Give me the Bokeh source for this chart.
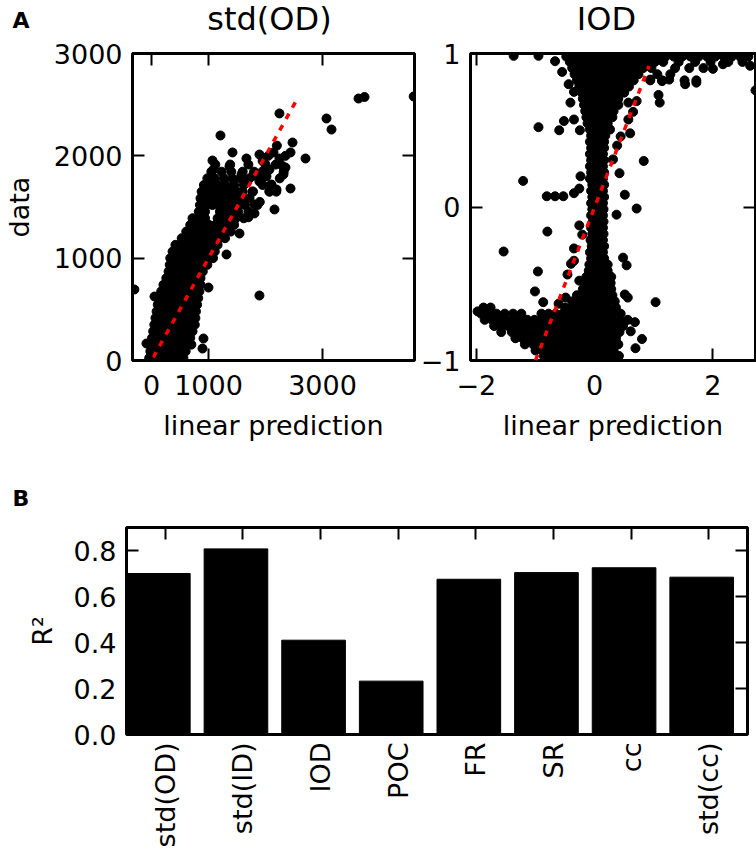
import math
from bokeh.plotting import figure
from bokeh.models import LinearAxis, FixedTicker, PrintfTickFormatter
from bokeh.layouts import column, row
from bokeh.embed import file_html
from bokeh.resources import INLINE
from bokeh.core.properties import value

FONT = "DejaVu Sans"

# ---------------- Panel A, left: std(OD) ----------------
od_title = "std(OD)"
od_xticks = [0, 1000, 3000]
od_yticks = [0, 1000, 2000, 3000]
od_xrange = (-333, 4614)
od_yrange = (0, 3000)
od_identity = [30, 2550]

# dense cloud, read row by row (y value of the row, x values along it)
od_row_y = [25, 90, 155, 220, 285, 350, 415, 480, 545, 610, 675, 740, 805, 870,
            935, 1000, 1065, 1130, 1195, 1260, 1325, 1390, 1455, 1520, 1585,
            1650, 1715, 1780, 1845, 1915]
od_row_x = [
    [-40, 60, 160, 260, 360, 460, 560],
    [-20, 80, 180, 280, 380, 480, 600],
    [0, 100, 200, 300, 400, 500, 620, 700],
    [10, 110, 210, 310, 410, 510, 610, 680],
    [30, 130, 230, 330, 430, 530, 630, 720],
    [50, 150, 250, 350, 450, 550, 650, 760],
    [70, 170, 270, 370, 470, 570, 670, 770],
    [90, 190, 290, 390, 490, 590, 690, 780],
    [110, 210, 310, 410, 510, 610, 710, 800],
    [130, 230, 330, 430, 530, 630, 730, 820],
    [170, 270, 370, 470, 570, 670, 770, 840],
    [210, 310, 410, 510, 610, 710, 810, 860],
    [260, 360, 460, 560, 660, 760, 860],
    [300, 400, 500, 600, 700, 800, 900],
    [320, 420, 520, 620, 720, 820, 920, 980],
    [330, 440, 550, 660, 770, 880, 990, 1080],
    [370, 480, 590, 700, 810, 920, 1030, 1110],
    [420, 530, 640, 750, 860, 970, 1080, 1160],
    [530, 640, 750, 860, 970, 1080, 1190, 1290],
    [610, 720, 830, 940, 1050, 1160, 1270, 1390],
    [680, 790, 900, 1010, 1120, 1230, 1340, 1450],
    [720, 830, 940, 1160, 1270, 1380, 1480, 1620],
    [830, 940, 1200, 1310, 1420, 1520, 1700],
    [850, 960, 1070, 1180, 1290, 1400, 1530, 1640, 1860],
    [860, 980, 1100, 1220, 1340, 1460, 1600, 1720],
    [880, 1000, 1120, 1240, 1360, 1480, 1600, 1780, 2070, 2190],
    [920, 1040, 1160, 1300, 1450, 1620, 1950, 2100],
    [980, 1110, 1270, 1420, 1560, 1720, 1900, 2250],
    [1050, 1230, 1400, 1600, 1800, 2030, 2320],
    [1120, 1380, 1700, 2000, 2180],
]
# isolated points
od_sparse_x = [1210, 1421, 1666, 1894, 2140, 2245, 2351, 2315, 2439, 2158, 1070, 1088,
               1368, 2070, 2105, 2193, 1807, 1544, 1316, 1894, 1000, 912, 895, 53,
               -300, -88, 3070, 3158, 3632, 3737, 4600, 2245, 2474, 2439, 2702, 1789,
               1947, 2017, 1894, 1772, 2070, 1807, 1614, 1263, 965, 1579, 1666,
               1850, 1950, 2300, 1700, 1900, 2350, 1500, 2200, 2050]
od_sparse_y = [2199, 2033, 1974, 2013, 2033, 1974, 1886, 1818, 1681, 1476, 1954, 1866,
               1896, 1866, 1720, 1671, 1437, 1241, 1036, 635, 713, 215, 117, 625,
               694, 166, 2365, 2257, 2560, 2575, 2580, 2414, 2130, 2033, 1974, 1818,
               1847, 1798, 1749, 1652, 1652, 1524, 1583, 1700, 1632, 1818, 1749,
               1800, 1950, 1900, 1400, 1550, 2000, 1650, 2100, 2000]

# ---------------- Panel A, right: IOD ----------------
iod_title = "IOD"
iod_xticks = [-2, 0, 2]
iod_yticks = [-1, 0, 1]
iod_xrange = (-2.1, 2.72)
iod_yrange = (-1, 1)
iod_identity = [-1.0, 0.92]

iod_row_y = [0.98, 0.945, 0.905, 0.865, 0.825, 0.785, 0.745, 0.705, 0.665, 0.625,
             0.585, 0.545, 0.505, 0.465, 0.425, 0.385, 0.345, 0.305, 0.265, 0.225,
             0.185, 0.145, 0.105, 0.065, 0.025, -0.015, -0.055, -0.095, -0.135,
             -0.175, -0.215, -0.255, -0.295, -0.335, -0.375, -0.415, -0.455, -0.495,
             -0.535, -0.575, -0.615, -0.655, -0.695, -0.735, -0.775, -0.815, -0.855,
             -0.895, -0.935, -0.97]
iod_row_x = [
    [-0.48, -0.36, -0.24, -0.12, 0.0, 0.12, 0.24, 0.36, 0.48, 0.60, 0.72, 0.84, 0.96,
     1.08, 1.20, 1.34, 1.48, 1.62, 1.76, 1.90, 2.04, 2.18, 2.32, 2.46, 2.60],
    [-0.42, -0.30, -0.18, -0.06, 0.06, 0.18, 0.30, 0.42, 0.54, 0.66, 0.78, 0.90, 1.02,
     1.16, 1.42, 1.70, 1.96, 2.26, 2.50],
    [-0.38, -0.26, -0.14, -0.02, 0.10, 0.22, 0.34, 0.46, 0.58, 0.70, 0.82, 0.96, 1.36,
     1.60, 1.84],
    [-0.34, -0.22, -0.10, 0.02, 0.14, 0.26, 0.38, 0.50, 0.62, 0.74, 1.06, 1.28],
    [-0.30, -0.18, -0.06, 0.06, 0.18, 0.30, 0.42, 0.54, 0.66, 0.94, 1.14, 1.52, 1.72],
    [-0.26, -0.14, -0.02, 0.10, 0.22, 0.34, 0.46, 0.58],
    [-0.22, -0.10, 0.02, 0.14, 0.26, 0.38, 0.50],
    [-0.20, -0.08, 0.04, 0.16, 0.28, 0.40],
    [-0.18, -0.06, 0.06, 0.18, 0.30, 0.40],
    [-0.16, -0.04, 0.08, 0.20, 0.32],
    [-0.14, -0.02, 0.10, 0.22, 0.30],
    [-0.12, 0.0, 0.12, 0.22],
    [-0.08, 0.04, 0.16, 0.26],
    [-0.06, 0.06, 0.18],
    [-0.08, 0.04, 0.16],
    [-0.06, 0.06, 0.16],
    [-0.08, 0.04, 0.14],
    [-0.06, 0.06, 0.16],
    [-0.08, 0.04, 0.14],
    [-0.06, 0.06, 0.16],
    [-0.08, 0.04, 0.14],
    [-0.04, 0.08, 0.16],
    [-0.06, 0.05, 0.14],
    [-0.04, 0.07, 0.16],
    [-0.06, 0.05, 0.14],
    [-0.04, 0.07, 0.15],
    [-0.06, 0.05, 0.14],
    [-0.03, 0.07, 0.15],
    [-0.06, 0.05, 0.14],
    [-0.04, 0.06, 0.15],
    [-0.07, 0.04, 0.14],
    [-0.05, 0.06, 0.16],
    [-0.08, 0.03, 0.14],
    [-0.06, 0.05, 0.16],
    [-0.09, 0.02, 0.13, 0.22],
    [-0.10, 0.01, 0.12, 0.22],
    [-0.14, -0.03, 0.08, 0.19, 0.28],
    [-0.16, -0.05, 0.06, 0.17, 0.27],
    [-0.20, -0.08, 0.04, 0.16, 0.28],
    [-0.30, -0.18, -0.06, 0.06, 0.18, 0.30],
    [-0.38, -0.26, -0.14, -0.02, 0.10, 0.22, 0.34],
    [-1.88, -1.76, -0.50, -0.38, -0.26, -0.14, -0.02, 0.10, 0.22, 0.36],
    [-1.92, -1.80, -1.66, -1.52, -1.38, -1.24, -0.90, -0.78, -0.66, -0.54, -0.42,
     -0.30, -0.18, -0.06, 0.06, 0.18, 0.30, 0.44],
    [-1.86, -1.74, -1.62, -1.50, -1.38, -1.26, -1.14, -1.02, -0.90, -0.78, -0.66,
     -0.54, -0.42, -0.30, -0.18, -0.06, 0.06, 0.18, 0.30, 0.42, 0.56],
    [-1.70, -1.58, -1.46, -1.34, -1.22, -1.10, -0.98, -0.86, -0.74, -0.62, -0.50,
     -0.38, -0.26, -0.14, -0.02, 0.10, 0.22, 0.34, 0.48],
    [-1.58, -1.40, -1.28, -1.16, -1.04, -0.92, -0.80, -0.68, -0.56, -0.44, -0.32,
     -0.20, -0.08, 0.04, 0.16, 0.28, 0.42],
    [-1.34, -1.22, -1.10, -0.98, -0.86, -0.74, -0.62, -0.50, -0.38, -0.26, -0.14,
     -0.02, 0.10, 0.22, 0.36],
    [-1.18, -1.04, -0.92, -0.80, -0.68, -0.56, -0.44, -0.32, -0.20, -0.08, 0.04,
     0.16, 0.28, 0.40],
    [-1.00, -0.88, -0.76, -0.64, -0.52, -0.40, -0.28, -0.16, -0.04, 0.08, 0.20, 0.32],
    [-0.86, -0.74, -0.62, -0.50, -0.38, -0.26, -0.14, -0.02, 0.10, 0.22, 0.34],
]
iod_sparse_x = [-1.37, -0.95, -0.67, -0.55, -0.44, -0.41, -0.35, -0.52, -0.60, -0.95,
                -0.25, -0.35, 0.57, 0.71, 0.65, 0.57, 0.44, 0.60, 0.38, 0.31, 0.83,
                -0.24, -0.26, 0.42, -1.21, -0.81, -0.67, -0.53, -0.35, 0.51, 0.71,
                0.37, -0.26, -0.21, -0.80, -1.54, -0.35, 0.48, 0.54, -0.35, -0.40,
                -0.46, -0.96, -1.01, -0.26, -0.87, -0.61, -0.49, 0.56, 1.03, 0.68,
                0.61, 0.80, 0.69, 0.41, 0.51, 1.08, 1.10, 1.26, 1.53, 1.72, 2.00,
                2.17, 2.63, 2.72, 0.94, 1.14, -1.98]
iod_sparse_y = [0.985, 0.985, 0.95, 0.88, 0.80, 0.68, 0.75, 0.56, 0.50, 0.52,
                0.50, 0.57, 0.68, 0.69, 0.62, 0.57, 0.46, 0.48, 0.40, 0.31, 0.30,
                0.20, 0.12, 0.22, 0.17, 0.07, 0.07, 0.07, 0.09, 0.08, -0.01,
                -0.05, -0.12, -0.18, -0.16, -0.29, -0.27, -0.33, -0.38, -0.35, -0.37,
                -0.44, -0.42, -0.55, -0.48, -0.62, -0.63, -0.59, -0.59, -0.62, -0.75,
                -0.81, -0.86, -0.92, -0.97, -0.57, 0.73, 0.68, 0.83, 0.80, 0.81, 0.90,
                0.93, 0.92, 0.76, 0.83, 0.82, -0.68]

# ---------------- Panel B ----------------
categories = ["std(OD)", "std(ID)", "IOD", "POC", "FR", "SR", "cc", "std(cc)"]
r2 = [0.70, 0.807, 0.41, 0.232, 0.675, 0.704, 0.725, 0.684]
r2_yticks = [0.0, 0.2, 0.4, 0.6, 0.8]
r2_yrange = (0, 0.9)

TOTAL_W = 750


def flatten(rows_y, rows_x):
    xs, ys = [], []
    for yv, xr in zip(rows_y, rows_x):
        xs += xr
        ys += [yv] * len(xr)
    return xs, ys


def style_main(p, xticks, yticks, xlabel=None, ylabel=None, ylabel_standoff=8):
    p.outline_line_color = "black"
    p.outline_line_width = 3
    p.xgrid.visible = False
    p.ygrid.visible = False
    for ax, ticks, lab in ((p.below[0], xticks, xlabel), (p.left[0], yticks, ylabel)):
        ax.ticker = FixedTicker(ticks=ticks)
        ax.major_tick_in = 12
        ax.major_tick_out = 0
        ax.major_tick_line_width = 2
        ax.minor_tick_line_color = None
        ax.axis_line_color = None
        ax.major_label_text_font = FONT
        ax.major_label_text_font_size = "27px"
        ax.major_label_text_color = "black"
        ax.major_label_standoff = 10
        if lab:
            ax.axis_label = lab
            ax.axis_label_text_font = FONT
            ax.axis_label_text_font_size = "27px"
            ax.axis_label_text_font_style = "normal"
            ax.axis_label_text_color = "black"
    p.below[0].major_label_standoff = 14
    p.below[0].axis_label_standoff = 12
    p.left[0].axis_label_standoff = ylabel_standoff


def add_mirror(p, xticks, yticks):
    top = LinearAxis(ticker=FixedTicker(ticks=xticks))
    right = LinearAxis(ticker=FixedTicker(ticks=yticks))
    for ax in (top, right):
        ax.major_tick_in = 12
        ax.major_tick_out = 0
        ax.major_tick_line_width = 2
        ax.minor_tick_line_color = None
        ax.axis_line_color = None
        ax.major_label_text_font_size = "0px"
        ax.major_label_text_color = None
        ax.major_label_standoff = 0
    p.add_layout(top, "above")
    p.add_layout(right, "right")


def header(height):
    h = figure(width=TOTAL_W, height=height, x_range=(0, TOTAL_W), y_range=(height, 0),
               output_backend="svg", toolbar_location=None, x_axis_type=None,
               y_axis_type=None, min_border=0, frame_align=False, title=None)
    h.outline_line_color = None
    return h


# ---- header row of panel A: panel letter and the two titles (y = text centre)
hA = header(37)
hA.text(x=[12], y=[20], text=["A"], text_font=value(FONT), text_font_size="22px",
        text_font_style="bold", text_align="left", text_baseline="middle",
        text_color="black")
hA.text(x=[269, 606], y=[18.6, 18.6], text=[od_title, iod_title], text_font=value(FONT),
        text_font_size="32px", text_align="center", text_baseline="middle",
        text_color="black")

# ---- left scatter
p1 = figure(frame_width=282, frame_height=307, x_range=od_xrange, y_range=od_yrange,
            output_backend="svg", toolbar_location=None, frame_align=False, title=None,
            min_border_left=126, min_border_right=3, min_border_top=16, min_border_bottom=109)
ox, oy = flatten(od_row_y, od_row_x)
p1.scatter(ox + od_sparse_x, oy + od_sparse_y, size=9, color="black")
p1.line(od_identity, od_identity, line_color="red", line_width=3.5, line_dash="6 7")
style_main(p1, od_xticks, od_yticks, "linear prediction", "data", 16)
add_mirror(p1, od_xticks, od_yticks)

# ---- right scatter
p2 = figure(frame_width=285, frame_height=307, x_range=iod_xrange, y_range=iod_yrange,
            output_backend="svg", toolbar_location=None, frame_align=False, title=None,
            min_border_left=52, min_border_right=2, min_border_top=16, min_border_bottom=109)
ix, iy = flatten(iod_row_y, iod_row_x)
p2.scatter(ix + iod_sparse_x, iy + iod_sparse_y, size=9, color="black")
p2.line(iod_identity, iod_identity, line_color="red", line_width=3.5, line_dash="6 7")
style_main(p2, iod_xticks, iod_yticks, "linear prediction", None)
p2.below[0].major_label_overrides = {-2: "\u22122"}
p2.left[0].major_label_overrides = {-1: "\u22121"}
add_mirror(p2, iod_xticks, iod_yticks)

# ---- header of panel B
hB = header(47)
hB.text(x=[12], y=[29.4], text=["B"], text_font=value(FONT), text_font_size="22px",
        text_font_style="bold", text_align="left", text_baseline="middle",
        text_color="black")

# ---- bar chart
bar_x = [i + 0.41 for i in range(len(categories))]
cat_ticks = [i + 0.5 for i in range(len(categories))]
p3 = figure(frame_width=621, frame_height=207, x_range=(0, len(categories)), y_range=r2_yrange,
            output_backend="svg", toolbar_location=None, frame_align=False, title=None,
            min_border_left=126, min_border_right=3, min_border_top=11, min_border_bottom=120)
p3.vbar(x=bar_x, top=r2, width=0.82, bottom=0, color="black")
style_main(p3, cat_ticks, r2_yticks, None, "R\u00b2", 13)
p3.below[0].major_label_overrides = {t: c for t, c in zip(cat_ticks, categories)}
p3.below[0].major_label_orientation = math.pi / 2
p3.below[0].major_label_standoff = 8
p3.left[0].formatter = PrintfTickFormatter(format="%.1f")
add_mirror(p3, cat_ticks, r2_yticks)

layout = column(hA, row(p1, p2), hB, p3)
open("out.html", "w").write(file_html(layout, INLINE))
